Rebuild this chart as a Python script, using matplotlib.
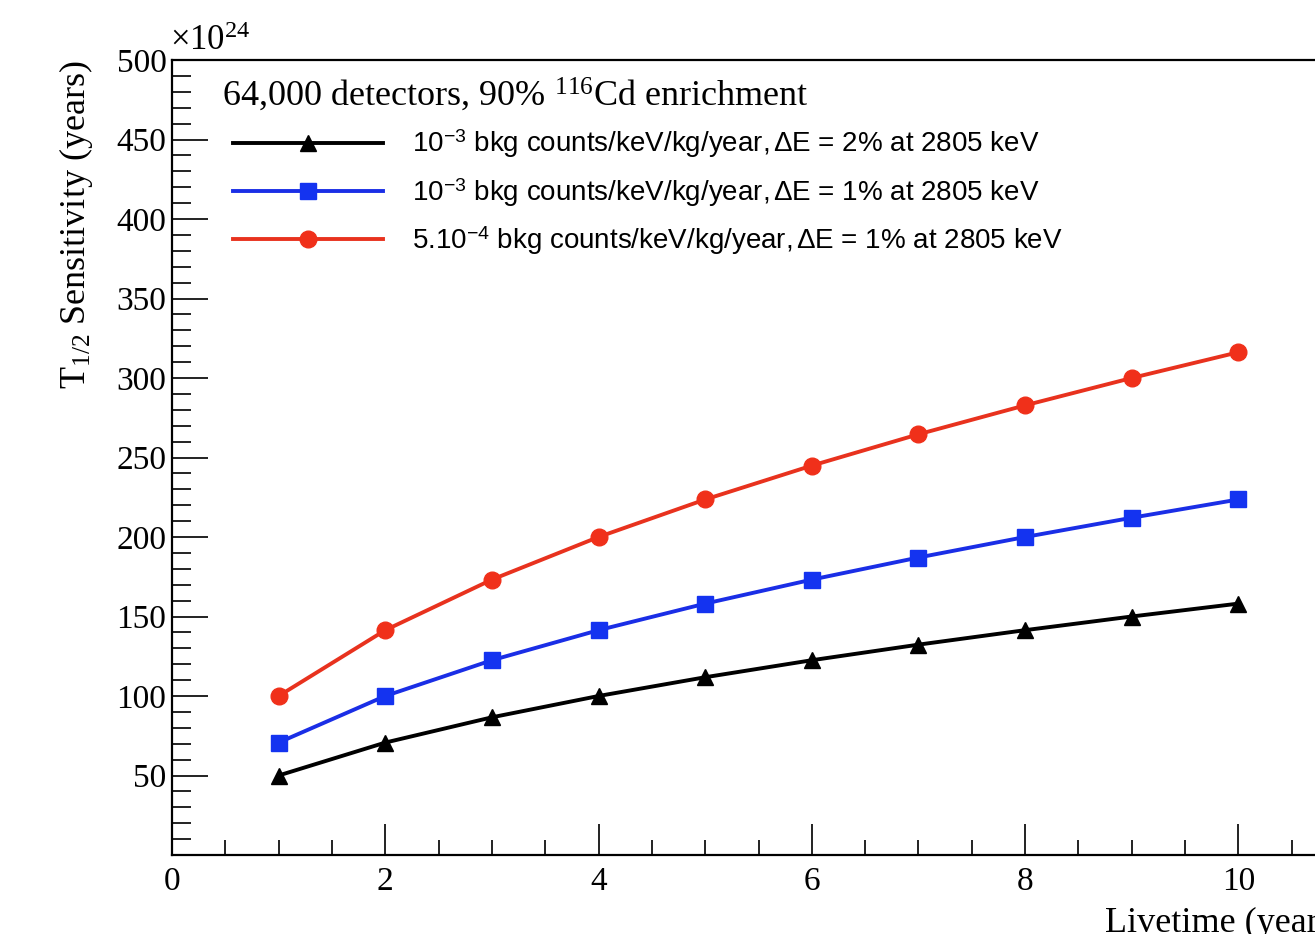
import matplotlib
matplotlib.use("Agg")
import matplotlib.pyplot as plt
from matplotlib.ticker import MultipleLocator

plt.rcParams['mathtext.fontset'] = 'custom'
plt.rcParams['mathtext.rm'] = 'Liberation Serif'
plt.rcParams['mathtext.it'] = 'Liberation Serif:italic'
plt.rcParams['mathtext.sf'] = 'Liberation Sans'

livetime = [1, 2, 3, 4, 5, 6, 7, 8, 9, 10]
sens_2pct = [50.0, 70.7, 86.6, 100.0, 111.8, 122.5, 132.3, 141.4, 150.0, 158.1]
sens_1pct = [70.7, 100.0, 122.5, 141.4, 158.1, 173.2, 187.1, 200.0, 212.1, 223.6]
sens_half = [100.0, 141.4, 173.2, 200.0, 223.6, 244.9, 264.6, 282.8, 300.0, 316.2]

labels = [
    r"10$^{\mathsf{-3}}$ bkg counts/keV/kg/year,$\,$ΔE = 2% at 2805 keV",
    r"10$^{\mathsf{-3}}$ bkg counts/keV/kg/year,$\,$ΔE = 1% at 2805 keV",
    r"5.10$^{\mathsf{-4}}$ bkg counts/keV/kg/year,$\,$ΔE = 1% at 2805 keV",
]
header = r"64,000 detectors, 90% $^{\mathrm{116}}$Cd enrichment"
yticks = [50, 100, 150, 200, 250, 300, 350, 400, 450, 500]
xticks = [0, 2, 4, 6, 8, 10]

W, H = 1315, 934
fig = plt.figure(figsize=(W/100, H/100), dpi=100)
ax = fig.add_axes([172/W, 1-855/H, (1345-172)/W, (855-60)/H])

ax.plot(livetime, sens_2pct, color='black', lw=2.8, marker='^', ms=12, label=labels[0])
ax.plot(livetime, sens_1pct, color='#1a2ee6', lw=2.8, marker='s', ms=12,
        mfc='#1433f0', mec='#1433f0', label=labels[1])
ax.plot(livetime, sens_half, color='#e8321e', lw=2.8, marker='o', ms=12,
        mfc='#f0301a', mec='#f0301a', label=labels[2])

ax.set_xlim(0, 11)
ax.set_ylim(0, 500)
ax.xaxis.set_minor_locator(MultipleLocator(0.5))
ax.yaxis.set_minor_locator(MultipleLocator(10))
ax.set_yticks(yticks)
ax.set_yticklabels([str(v) for v in yticks], fontfamily='Liberation Serif', fontsize=24)
ax.set_xticks(xticks)
ax.set_xticklabels([str(v) for v in xticks], fontfamily='Liberation Serif', fontsize=24)
ax.tick_params(which='both', direction='in', top=False, right=False, width=1.4, color='#222222')
ax.tick_params(axis='y', which='major', length=26, pad=4)
ax.tick_params(axis='y', which='minor', length=14)
ax.tick_params(axis='x', which='major', length=22, pad=8)
ax.tick_params(axis='x', which='minor', length=11)
for s in ax.spines.values():
    s.set_linewidth(1.6)

ax.set_xlabel("Livetime (years)", fontfamily='Liberation Serif', fontsize=26, loc='right')
ax.set_ylabel(r"T$_{\mathit{1/2}}$ Sensitivity (years)", fontfamily='Liberation Serif',
              fontsize=26, loc='top')
ax.yaxis.set_label_coords(-0.066, 1.0)
ax.xaxis.set_label_coords(1.0, -0.065)

fig.text(170/W, 1-42/H, r"$\times$10$^{\mathrm{24}}$", fontfamily='Liberation Serif',
         fontsize=25, va='center', ha='left')

ax.text(222/W, 1-95/H, header, transform=fig.transFigure, fontfamily='Liberation Serif',
        fontsize=26, va='center', ha='left')

leg = ax.legend(loc='upper left', bbox_to_anchor=((233-172)/1173, 1-(128-60)/795), frameon=False,
                prop={'family': 'Liberation Sans', 'size': 20},
                handlelength=5.4, handletextpad=1.05, labelspacing=0.57,
                borderpad=0, borderaxespad=0)

fig.savefig("out.png", dpi=100)
